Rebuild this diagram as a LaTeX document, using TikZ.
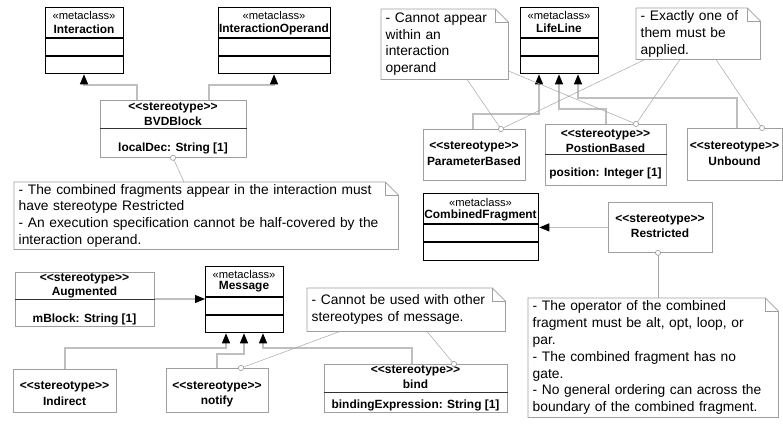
\documentclass[tikz,border=0pt]{standalone}
\usepackage{fontspec}
\setmainfont{Liberation Sans}
\usetikzlibrary{arrows.meta}

% stereotype marker (kerns stop the << >> text mapping)
\newcommand{\stlab}{{\fontsize{12.1}{14}\selectfont<\kern0pt<stereotype>\kern0pt>}}
% note outline with a folded top-right corner
\newcommand{\notefold}[1]{%
  \draw[noteline] (#1.north west) -- ([xshift=-13pt]#1.north east)
    -- ([yshift=-13pt]#1.north east) -- (#1.south east) -- (#1.south west) -- cycle;
  \draw[noteline] ([xshift=-13pt]#1.north east) -- ([xshift=-13pt,yshift=-13pt]#1.north east)
    -- ([yshift=-13pt]#1.north east);}

\begin{document}
\begin{tikzpicture}[x=1pt,y=-1pt,
  meta/.style={draw=black,line width=1.3pt,fill=white,anchor=north west,inner sep=0pt},
  stereo/.style={draw=gray!75,line width=0.8pt,fill=white,anchor=north west,inner sep=0pt},
  notebody/.style={anchor=north west,inner xsep=4.5pt,inner ysep=0pt,align=left,fill=white,
    font=\fontsize{13.8}{16.8}\selectfont},
  noteline/.style={draw=gray!75,line width=0.8pt},
  metadiv/.style={draw=black,line width=1.1pt},
  stdiv/.style={draw=black!80,line width=0.9pt},
  mlab/.style={inner sep=0pt,font=\fontsize{11.2}{13}\selectfont},
  blab/.style={inner sep=0pt,font=\fontsize{11.9}{14}\selectfont\bfseries},
  gen/.style={draw=gray!50,line width=1.1pt,-{Triangle[length=10pt,width=8pt,color=black]}},
  link/.style={draw=gray!70,line width=0.5pt},
  knob/.style={draw=gray!80,line width=0.6pt,fill=white},
]
\useasboundingbox (0,0) rectangle (783,423);

% ---------- metaclasses ----------
\node[meta,minimum width=78pt,minimum height=66pt] (inter) at (45,7) {};
\node[meta,minimum width=112pt,minimum height=66pt] (iop) at (218,7) {};
\node[meta,minimum width=78pt,minimum height=66pt] (life) at (520,7) {};
\node[meta,minimum width=115pt,minimum height=67pt] (cf) at (423,193) {};
\node[meta,minimum width=78pt,minimum height=66pt] (msg) at (205,266) {};

\foreach \b/\ya/\yb in {inter/38/56, iop/38/56, life/38/56, cf/224/242, msg/297/315}{
  \draw[metadiv] (\b.west |- 0,\ya) -- (\b.east |- 0,\ya);
  \draw[metadiv] (\b.west |- 0,\yb) -- (\b.east |- 0,\yb);
}

\node[mlab] (inter-k) at (84,15) {«metaclass»};
\node[blab] (inter-n) at (84,29) {Interaction};
\node[mlab] (iop-k) at (274,15) {«metaclass»};
\node[blab] (iop-n) at (274,29) {InteractionOperand};
\node[mlab] (life-k) at (559,15) {«metaclass»};
\node[blab] (life-n) at (559,28) {LifeLine};
\node[mlab] (cf-k) at (480.5,202) {«metaclass»};
\node[blab] (cf-n) at (480.5,215) {CombinedFragment};
\node[mlab] (msg-k) at (244,274) {«metaclass»};
\node[blab] (msg-n) at (244,287) {Message};

% ---------- stereotypes ----------
\node[stereo,minimum width=146pt,minimum height=57pt] (bvd) at (100,100) {};
\draw[stdiv] (bvd.west |- 0,128) -- (bvd.east |- 0,128);
\node[blab] (bvd-s) at (173,108) {\stlab};
\node[blab] (bvd-n) at (173,121) {BVDBlock};
\node[blab] (bvd-a) at (173,148) {localDec: String [1]};

\node[stereo,minimum width=102pt,minimum height=51pt] (pb) at (423,129) {};
\node[blab] (pb-s) at (474,147) {\stlab};
\node[blab] (pb-n) at (474,161) {ParameterBased};

\node[stereo,minimum width=121pt,minimum height=61pt] (posb) at (545,124) {};
\draw[stdiv] (posb.west |- 0,154) -- (posb.east |- 0,154);
\node[blab] (posb-s) at (605.5,135) {\stlab};
\node[blab] (posb-n) at (605.5,148) {PostionBased};
\node[blab] (posb-a) at (605.5,173) {position: Integer [1]};

\node[stereo,minimum width=95pt,minimum height=52pt] (unb) at (687,128) {};
\node[blab] (unb-s) at (734.5,147) {\stlab};
\node[blab] (unb-n) at (734.5,161) {Unbound};

\node[stereo,minimum width=104pt,minimum height=50pt] (restr) at (608,202) {};
\node[blab] (restr-s) at (660,220) {\stlab};
\node[blab] (restr-n) at (660,233) {Restricted};

\node[stereo,minimum width=139pt,minimum height=54pt] (aug) at (15,272) {};
\draw[stdiv] (aug.west |- 0,299) -- (aug.east |- 0,299);
\node[blab] (aug-s) at (84.5,279) {\stlab};
\node[blab] (aug-n) at (84.5,292) {Augmented};
\node[blab] (aug-a) at (84.5,319) {mBlock: String [1]};

\node[stereo,minimum width=103pt,minimum height=43pt] (ind) at (13,369) {};
\node[blab] (ind-s) at (64.5,387) {\stlab};
\node[blab] (ind-n) at (64.5,401) {Indirect};

\node[stereo,minimum width=102pt,minimum height=44pt] (notify) at (166,368) {};
\node[blab] (notify-s) at (217,387) {\stlab};
\node[blab] (notify-n) at (217,401) {notify};

\node[stereo,minimum width=183pt,minimum height=48pt] (bind) at (324,364) {};
\draw[stdiv] (bind.west |- 0,392) -- (bind.east |- 0,392);
\node[blab] (bind-s) at (415.5,371) {\stlab};
\node[blab] (bind-n) at (415.5,384) {bind};
\node[blab] (bind-a) at (415.5,405) {bindingExpression: String [1]};

% ---------- notes ----------
\node[notebody,text width=375pt,minimum height=67pt] (n1) at (14,182)
  {- The combined fragments appear in the interaction must\\have stereotype Restricted\\- An execution specification cannot be half-covered by the\\interaction operand.};
\node[notebody,text width=118pt,minimum height=70pt] (n2) at (381,9)
  {- Cannot appear\\within an\\interaction\\operand};
\node[notebody,text width=115pt,minimum height=51pt] (n3) at (636,8)
  {- Exactly one of\\them must be\\applied.};
\node[notebody,text width=189pt,minimum height=43pt] (n4) at (307,288)
  {- Cannot be used with other\\stereotypes of message.};
\node[notebody,text width=241pt,minimum height=119pt] (n5) at (528,298)
  {- The operator of the combined\\fragment must be alt, opt, loop, or\\par.\\- The combined fragment has no\\gate.\\- No general ordering can across the\\boundary of the combined fragment.};
\foreach \n in {n1,n2,n3,n4,n5}{\notefold{\n}}

% ---------- generalizations ----------
\draw[gen] (bvd.north -| 137,0) |- (84,85) -- (inter.south -| 84,0);
\draw[gen] (bvd.north -| 209,0) |- (274,85) -- (iop.south -| 274,0);
\draw[gen] (pb.north -| 473,0) |- (539,114) -- (life.south -| 539,0);
\draw[gen] (posb.north -| 606,0) |- (559,109) -- (life.south -| 559,0);
\draw[gen] (unb.north -| 737,0) |- (578,98) -- (life.south -| 578,0);
\draw[gen] (restr.west) -- (cf.east |- restr.west);
\draw[gen] (aug.east |- 0,299) -- (msg.west |- 0,299);
\draw[gen] (ind.north -| 65,0) |- (226,348) -- (msg.south -| 226,0);
\draw[gen] (notify.north -| 217,0) |- (244,354) -- (msg.south -| 244,0);
\draw[gen] (bind.north -| 412,0) |- (263,348) -- (msg.south -| 263,0);

% ---------- note attachments ----------
\draw[link] (n1.north -| 184,0) -- (bvd.south -| 173,0);
\draw[link] (n2.south -| 467,0) -- (pb.north -| 501,0);
\draw[link] (n2.east |- 0,71) -- (posb.north -| 636,0);
\draw[link] (n3.south -| 645,0) -- (pb.north -| 501,0);
\draw[link] (n3.south -| 680,0) -- (posb.north -| 636,0);
\draw[link] (n3.south -| 716,0) -- (unb.north -| 762,0);
\draw[link] (n4.south -| 340,0) -- (notify.north -| 241,0);
\draw[link] (n4.south -| 427,0) -- (bind.north -| 454,0);
\draw[link] (n5.north -| 658,0) -- (restr.south -| 658,0);

\foreach \p in {{bvd.south -| 173,0},{pb.north -| 501,0},{posb.north -| 636,0},
                {unb.north -| 762,0},{notify.north -| 241,0},{bind.north -| 454,0},
                {restr.south -| 658,0}}{
  \draw[knob] (\p) circle[radius=2.6pt];
}
\end{tikzpicture}
\end{document}
